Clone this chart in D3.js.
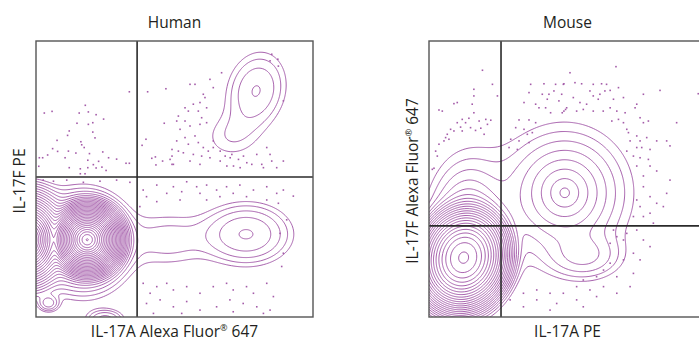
<!DOCTYPE html>
<html><head><meta charset="utf-8">
<script src="https://cdn.jsdelivr.net/npm/d3@7"></script>
<style>
html,body{margin:0;padding:0;background:#fff;}
svg{display:block;font-family:"Open Sans","Noto Sans",sans-serif;}
</style></head>
<body>
<svg id="chart" width="699" height="343"></svg>
<script>
// ---------------- DATA ----------------
const panelTitles = ["Human", "Mouse"];
const xLabels = ["IL-17A Alexa Fluor", "IL-17A PE"];
const yLabels = ["IL-17F PE", "IL-17F Alexa Fluor"];
// quadrant gate positions (data units, 0-100 scale)
const gatesHuman = [36.5, 50.7];
const gatesMouse = [26, 33];
// density populations: [cx, cy, sx, sy, angleDeg, amplitude, shape]
const popsHuman = [
  [17, 27, 2.0, 2.1, 0, 150, 0.5],
  [18.5, 28, 2.0, 2.0, 0, 200000, 0.75],
  [-3, 28, 0.8, 1.0, 0, 60000, 0.5],
  [4.5, 5, 2.2, 1.8, 0, 4, 1],
  [25, -1, 4, 2.2, 0, 4, 1],
  [76, 30, 9.4, 6.5, 0, 5.2, 1],
  [48, 28, 10, 7, 0, 1.8, 1],
  [79.5, 82, 6.7, 9, -15, 3.44, 1],
  [70, 65, 7.5, 6, 0, 1.3, 1]
];
const popsMouse = [
  [12.5, 21.5, 4.8, 5.6, -15, 8000, 1],
  [14, 30, 2.4, 4.3, 0, 30, 0.5],
  [49, 45, 4.1, 4.2, 0, 21, 0.5],
  [56, 22, 8, 5, 0, 3, 1]
];
const levelRatio = 1.5;
const levelCount = 45;
// outlier events (data units)
const dotsHuman = [
 [33.7,81.6],[3.0,73.9],[5.8,74.5],[17.8,76.7],[15.6,73.9],[18.9,74.3],[21.7,73.3],[24.4,71.7],[14.8,70.2],[18.9,69.8],
 [20.5,70.4],[12.0,67.4],[20.5,67.0],[11.4,65.8],[21.3,64.9],[7.6,64.0],[16.2,63.5],[6.0,61.0],[7.8,60.0],[11.7,60.1],
 [14.4,59.4],[16.5,62.4],[17.4,61.4],[19.3,59.2],[24.1,59.8],[1.2,57.7],[2.4,57.7],[4.2,58.7],[10.5,57.7],[18.7,56.8],
 [26.2,57.7],[29.1,57.2],[22.6,56.4],[12.0,54.1],[16.0,53.7],[18.7,54.1],[20.7,55.2],[21.7,54.0],[23.8,54.3],[25.3,53.1],
 [32.5,55.7],[33.7,55.7],[1.0,54.6],[17.7,51.9],[16.0,51.9],
 [40.3,81.6],[46.9,82.7],[46.3,70.2],[38.3,62.2],[39.7,64.4],[49.1,60.7],[41.8,57.5],[43.1,58.0],[45.7,56.5],[49.1,58.3],[43.3,55.1],[49.1,55.3],
 [85.1,95.2],[87.3,93.4],[84.5,92.8],[87.5,90.9],[67.0,88.5],[62.8,86.1],[57.4,84.3],[55.6,84.3],[64.0,83.1],[89.3,78.3],
 [60.4,80.7],[61.0,79.5],[59.2,77.7],[56.8,77.1],[53.8,75.8],[55.0,74.6],[58.6,74.6],[61.6,75.8],[59.8,72.2],[51.4,72.8],
 [53.8,71.0],[50.8,71.0],[55.6,69.2],[52.0,68.0],[59.2,69.8],[61.6,70.4],[64.0,63.8],[57.4,65.6],[53.8,65.0],[50.8,63.8],
 [55.0,62.6],[58.6,63.2],[60.4,61.4],[62.2,60.1],[64.0,61.4],[66.5,60.1],[68.3,58.3],[70.1,57.7],[73.1,57.1],[70.7,58.9],
 [74.9,58.3],[79.7,58.9],[83.3,61.4],[84.5,58.9],[85.1,56.5],[81.5,55.3],[77.9,55.3],[76.1,55.9],[73.7,54.1],[71.3,54.7],
 [68.9,54.7],[66.5,56.5],[62.8,57.7],[59.8,58.3],[56.8,58.9],[53.2,59.5],[51.4,60.1],[55.6,56.5],[59.2,55.3],[86.9,54.1],
 [89.3,56.5],[82.1,54.1],[48.4,57.1],[49.6,55.3],
 [38.7,46.0],[39.9,43.6],[43.6,47.8],[47.2,44.8],[49.6,47.2],[52.6,45.4],[54.4,49.0],[58.0,47.2],[59.2,44.8],[61.6,47.8],
 [65.2,46.0],[68.8,47.2],[71.2,44.8],[73.6,47.8],[78.5,46.0],[83.3,47.2],[86.9,44.8],[89.3,46.0],[92.9,43.8],[61.6,42.4],
 [52.0,42.4],[43.6,41.8],[37.5,40.0],[66.4,43.6],[76.0,43.6],[83.3,42.4],[87.5,41.2],
 [38.7,12.2],[41.2,8.6],[43.6,11.0],[47.2,12.2],[49.6,9.8],[54.4,11.0],[59.2,8.6],[64.0,11.0],[68.8,12.2],[71.2,9.8],
 [76.0,11.0],[78.5,8.6],[83.3,12.2],[85.7,7.4],[39.9,4.9],[44.8,6.2],[49.6,3.7],[54.4,5.6],[59.2,2.5],[65.2,3.7],
 [70.0,6.2],[74.8,4.9],[79.7,3.7],[84.5,2.5],[42.4,1.3],[52.6,1.3],[71.2,1.9],[82.1,1.3],[88.1,30.3],[89.3,23.1],
 [88.7,18.3],[90.5,35.2],
 [2.6,49.6],[6.3,49.2],[11.1,49.6],[17.1,48.8],[23.1,49.2],[29.1,49.6],[33.9,48.8]
];
const dotsMouse = [
 [19.3,89.4],[22.9,84.3],[16.2,82.5],[16.2,80.1],[24.7,80.1],[15.6,77.1],[9.0,77.3],[10.2,77.7],[3.6,75.0],[4.8,74.6],
 [16.2,74.0],[14.4,72.0],[12.0,71.6],[13.2,70.4],[10.2,70.4],[18.1,71.0],[20.5,71.6],[22.3,71.3],[7.8,68.0],[9.0,67.4],
 [11.4,68.8],[12.0,67.4],[15.0,68.6],[16.8,67.6],[18.7,68.4],[6.0,65.0],[7.2,64.4],[5.4,63.8],[3.6,62.6],[2.4,60.1],
 [3.0,58.3],[1.2,53.5],[1.8,53.9],[6.6,66.2],[19.9,66.2],[21.1,69.8],
 [36.7,84.3],[41.5,84.5],[45.7,84.3],[48.7,84.5],[36.1,81.3],[40.9,80.7],[43.3,80.7],[45.1,81.9],[42.7,78.9],[46.9,78.3],
 [34.3,77.7],[38.5,77.1],[39.7,75.8],[42.1,75.8],[43.9,74.0],[48.1,74.0],[48.7,74.6],[49.3,75.2],[32.5,71.4],[36.1,71.4],
 [38.5,70.4],[31.3,68.6],[34.3,68.0],[35.5,66.2],[37.3,66.8],[32.5,63.8],[29.5,64.4],[36.1,63.2],[28.9,61.4],[31.9,60.7],
 [67.5,90.7],[50.9,88.5],[52.7,84.9],[55.1,84.5],[59.3,84.3],[62.3,84.5],[64.1,84.3],[48.5,84.3],[47.9,80.7],[52.1,79.5],
 [54.5,77.7],[56.9,77.1],[59.3,80.1],[61.7,80.7],[63.5,81.9],[65.4,82.1],[68.4,83.1],[58.1,81.9],[61.1,78.9],[66.6,78.9],
 [70.2,79.5],[77.4,80.7],[83.4,82.1],[75.0,77.1],[49.7,75.8],[53.3,74.6],[55.7,75.2],[59.3,74.6],[62.9,74.6],[65.4,75.8],
 [67.8,74.6],[70.8,74.0],[74.4,75.8],[79.2,71.0],[77.4,70.4],[76.2,72.2],[89.4,70.4],[66.0,71.0],[68.4,71.6],[70.2,70.4],
 [71.4,68.0],[72.0,66.8],[75.0,65.6],[72.6,63.8],[76.2,63.8],[78.6,65.0],[82.2,63.8],[85.8,63.8],[75.0,61.4],[76.8,61.4],
 [79.8,60.7],[71.4,60.1],[73.8,58.3],[76.2,57.7],[79.2,57.1],[75.0,54.7],[79.8,54.7],[82.2,52.9],[77.4,51.1],[87.0,62.0],
 [97.2,80.9],
 [77.4,47.2],[79.8,43.6],[82.2,41.2],[76.2,40.0],[79.8,37.6],[75.0,42.4],[85.8,44.8],[84.6,40.0],[77.4,36.4],[81.0,34.0],
 [73.8,36.4],[87.0,49.6],
 [66.6,31.5],[67.8,29.1],[70.2,27.9],[65.4,26.7],[71.4,30.3],[75.0,31.5],[77.4,27.9],[73.8,23.1],[70.2,20.7],[65.4,19.5],
 [63.0,17.0],[67.8,14.6],[60.5,14.6],[55.7,13.4],[53.3,11.0],[58.1,9.8],[63.0,11.0],[48.5,8.6],[43.7,8.6],[38.9,9.8],
 [34.1,8.6],[38.9,6.2],[46.1,4.9],[53.3,6.2],[60.5,7.4],[67.8,8.6],[72.6,11.0],[29.3,6.2],[34.1,3.7],[43.7,2.5],
 [55.7,3.7],[73.8,15.8],[76.2,20.7],[79.8,25.5]
];

// ---------------- LAYOUT ----------------
const panels = [
  {title: panelTitles[0], xl: xLabels[0], xlSup: true, yl: yLabels[0], ylSup: false, gates: gatesHuman, pops: popsHuman, dots: dotsHuman,
   left: 36, top: 41, w: 277, h: 276, ylx: 25},
  {title: panelTitles[1], xl: xLabels[1], xlSup: false, yl: yLabels[1], ylSup: true, gates: gatesMouse, pops: popsMouse, dots: dotsMouse,
   left: 429, top: 41, w: 277, h: 276, ylx: 418}
];
const lineColor = "#a055a6";
const dotColor = "#a45ca9";
const textColor = "#231f20";
const fontSize = 15.5;
const svg = d3.select("#chart");
const thresholds = d3.range(levelCount).map(i => Math.pow(levelRatio, i));

function density(pops, x, y) {
  let s = 0;
  for (const [cx, cy, sx, sy, ang, a, b] of pops) {
    const t = ang * Math.PI / 180, c = Math.cos(t), sn = Math.sin(t);
    const dx = x - cx, dy = y - cy;
    const u = dx * c + dy * sn, v = -dx * sn + dy * c;
    const q = u * u / (sx * sx) + v * v / (sy * sy);
    s += a * Math.exp(-0.5 * Math.pow(q, b));
  }
  return s;
}

panels.forEach((p, pi) => {
  const x = d3.scaleLinear().domain([0, 100]).range([p.left, p.left + p.w]);
  const y = d3.scaleLinear().domain([0, 100]).range([p.top + p.h, p.top]);
  const g = svg.append("g");
  const clipId = "clip" + pi;
  svg.append("clipPath").attr("id", clipId).append("rect")
    .attr("x", p.left).attr("y", p.top).attr("width", p.w).attr("height", p.h);

  const x0 = -15, y0 = -15, step = 0.35, n = 372;
  const values = new Float64Array(n * n);
  for (let j = 0; j < n; j++) for (let i = 0; i < n; i++)
    values[j * n + i] = density(p.pops, x0 + i * step, y0 + j * step);
  const contours = d3.contours().size([n, n]).thresholds(thresholds)(values);
  const proj = d3.geoTransform({point(gx, gy) {
    this.stream.point(x(x0 + (gx - 0.5) * step), y(y0 + (gy - 0.5) * step));
  }});
  const path = d3.geoPath(proj);
  const inner = g.append("g").attr("clip-path", `url(#${clipId})`);
  inner.selectAll("path.c").data(contours).join("path")
    .attr("class", "c").attr("d", path)
    .attr("fill", "none").attr("stroke", lineColor).attr("stroke-width", 0.95);

  inner.selectAll("rect.d").data(p.dots).join("rect")
    .attr("class", "d")
    .attr("x", d => x(d[0]) - 0.8).attr("y", d => y(d[1]) - 0.8)
    .attr("width", 1.6).attr("height", 1.6).attr("fill", dotColor);

  g.append("line").attr("x1", x(p.gates[0])).attr("x2", x(p.gates[0]))
    .attr("y1", p.top).attr("y2", p.top + p.h).attr("stroke", "#2a2a2a").attr("stroke-width", 1.6);
  g.append("line").attr("x1", p.left).attr("x2", p.left + p.w)
    .attr("y1", y(p.gates[1])).attr("y2", y(p.gates[1])).attr("stroke", "#2a2a2a").attr("stroke-width", 1.6);
  g.append("rect").attr("x", p.left).attr("y", p.top).attr("width", p.w).attr("height", p.h)
    .attr("fill", "none").attr("stroke", "#555").attr("stroke-width", 1.4);

  const cx = p.left + p.w / 2;
  g.append("text").attr("x", cx).attr("y", 28).attr("text-anchor", "middle")
    .attr("font-size", fontSize).attr("fill", textColor).text(p.title);
  const xt = g.append("text").attr("x", cx).attr("y", 337).attr("text-anchor", "middle")
    .attr("font-size", fontSize).attr("fill", textColor);
  xt.append("tspan").text(p.xl);
  if (p.xlSup) {
    xt.append("tspan").attr("font-size", 9).attr("dy", -6).text("®");
    xt.append("tspan").attr("dy", 6).text(" 647");
  }
  const yt = g.append("text").attr("transform", `translate(${p.ylx},${p.top + p.h / 2 + 2}) rotate(-90)`)
    .attr("text-anchor", "middle").attr("font-size", fontSize).attr("fill", textColor);
  yt.append("tspan").text(p.yl);
  if (p.ylSup) {
    yt.append("tspan").attr("font-size", 9).attr("dy", -6).text("®");
    yt.append("tspan").attr("dy", 6).text(" 647");
  }
});
</script>
</body></html>
